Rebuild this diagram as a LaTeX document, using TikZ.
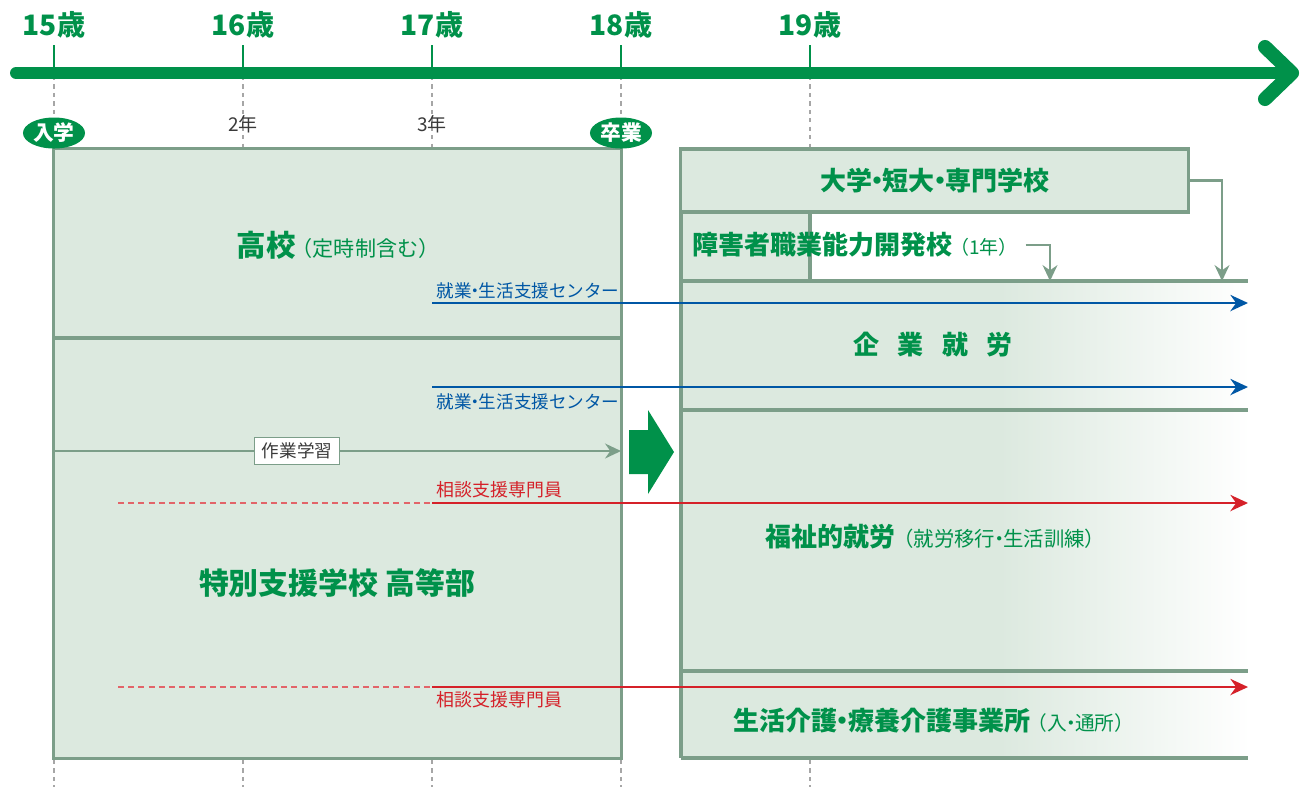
\documentclass[tikz,border=0pt]{standalone}
\usepackage{fontspec}
\setmainfont{Noto Sans CJK JP}
\usetikzlibrary{shapes.geometric,arrows.meta}
\definecolor{agegreen}{HTML}{00914A}
\definecolor{panelfill}{HTML}{DCE9DF}
\definecolor{panelline}{HTML}{7C9E89}
\definecolor{centerblue}{HTML}{0057A5}
\definecolor{advisorred}{HTML}{D52129}
\definecolor{gradegray}{HTML}{3A3A3A}
\newcommand{\fsz}[1]{\fontsize{#1}{#1}\selectfont}
\newcommand{\ndot}{\hspace{-0.3em}・\hspace{-0.3em}}

\begin{document}
\begin{tikzpicture}[x=0.01cm, y=-0.01cm,
  every node/.style={inner sep=0pt, align=center},
  agelabel/.style={text=agegreen, font=\fsz{8pt}\bfseries},
  gradelabel/.style={text=gradegray, font=\fsz{5.4pt}},
  tick/.style={agegreen, line width=0.6pt},
  guide/.style={gray!70, dash pattern=on 1.2pt off 1.2pt, line width=0.4pt},
  timeline/.style={agegreen, line width=3.4pt, line cap=round, line join=round},
  stage/.style={ellipse, fill=agegreen, text=white, minimum width=0.62cm, minimum height=0.31cm, font=\fsz{5.9pt}\bfseries},
  panel/.style={draw=panelline, fill=panelfill, line width=0.9pt},
  rule/.style={panelline, line width=0.9pt},
  flow/.style={panelline, line width=0.8pt, -{Stealth[length=4.5pt, width=4.2pt]}},
  heading/.style={text=agegreen, font=\fsz{7.4pt}\bfseries},
  support/.style={centerblue, line width=0.7pt, -{Stealth[length=5pt, width=4.6pt]}},
  supportlabel/.style={text=centerblue, font=\fsz{5pt}},
  advisor/.style={advisorred, line width=0.7pt, -{Stealth[length=5pt, width=4.6pt]}},
  advisordash/.style={advisorred!70, line width=0.6pt, dash pattern=on 1.7pt off 1.2pt},
  advisorlabel/.style={text=advisorred, font=\fsz{5.1pt}},
  worklabel/.style={draw=panelline, fill=white, line width=0.5pt, minimum width=0.85cm, minimum height=0.27cm, text=gradegray, font=\fsz{5pt}}
]
\useasboundingbox (0,0) rectangle (1300,787);

% Age guides
\draw[guide] (54,76) -- (54,149);
\draw[guide] (243,76) -- (243,149);
\draw[guide] (432,76) -- (432,149);
\draw[guide] (621,76) -- (621,149);
\draw[guide] (810,76) -- (810,149);
\draw[guide] (54,760) -- (54,787);
\draw[guide] (243,760) -- (243,787);
\draw[guide] (432,760) -- (432,787);
\draw[guide] (621,760) -- (621,787);
\draw[guide] (810,760) -- (810,787);

% Timeline
\coordinate (tl start) at (16,73);
\coordinate (tl end) at (1292,73);
\draw[timeline] (tl start) -- (tl end);
\draw[timeline, line width=4pt] (1265,47) -- (tl end) -- (1265,99);

% Ages
\node[agelabel] (age15) at (54,25) {15歳};
\draw[tick] (54,45) -- (54,73);
\node[agelabel] (age16) at (243,25) {16歳};
\draw[tick] (243,45) -- (243,73);
\node[agelabel] (age17) at (432,25) {17歳};
\draw[tick] (432,45) -- (432,73);
\node[agelabel] (age18) at (621,25) {18歳};
\draw[tick] (621,45) -- (621,73);
\node[agelabel] (age19) at (810,25) {19歳};
\draw[tick] (810,45) -- (810,73);

% High school side
\node[panel, minimum width=5.67cm, minimum height=6.09cm] (hs) at (337.5,453.5) {};
\draw[rule] (54,338) -- (621,338);
\node[gradelabel] (grade2) at (243,124) {2年};
\node[gradelabel] (grade3) at (432,124) {3年};
\node[stage] (enter) at (54,133) {入学};
\node[stage] (graduate) at (621,133) {卒業};
\node[heading] (highschool) at (338,245) {{\fsz{8.4pt}高校}\hspace{-0.15em}{\fsz{6pt}\mdseries（定時制含む）}};
\node[heading, font=\fsz{8.5pt}\bfseries] (special) at (337,583) {特別支援学校 高等部};

% After graduation
\fill[panelfill] (681,281) rectangle (1000,758);
\shade[left color=panelfill, right color=white] (1000,281) rectangle (1250,758);
\node[panel, minimum width=5.07cm, minimum height=0.63cm] (univ) at (934.5,180.5) {};
\node[panel, minimum width=1.29cm, minimum height=0.69cm] (vocbox) at (745.5,246.5) {};
\draw[rule] (681,212) -- (681,758);
\draw[rule] (681,281) -- (1248,281);
\draw[rule] (681,410) -- (1248,410);
\draw[rule] (681,671) -- (1248,671);
\draw[rule] (681,758) -- (1248,758);
\node[heading] (univtext) at (935,181) {大学\ndot 短大\ndot 専門学校};
\node[heading, anchor=west] (voc) at (692,245) {障害者職業能力開発校\hspace{-0.1em}{\fsz{5.4pt}\mdseries（1年）}};
\coordinate (voc end) at (1050,281);
\coordinate (univ end) at (1222,281);
\draw[flow] ([xshift=2pt]voc.east) -| (voc end);
\draw[flow] (univ.east) -| (univ end);
\node[heading] (company) at (933,345) {企\hspace{0.7em}業\hspace{0.7em}就\hspace{0.7em}労};
\node[heading, anchor=west] (welfare) at (765,537) {福祉的就労\hspace{-0.1em}{\fsz{5.8pt}\mdseries（就労移行\ndot 生活訓練）}};
\node[heading, anchor=west] (care) at (733,721) {生活介護\ndot 療養介護事業所\hspace{-0.1em}{\fsz{5.6pt}\mdseries（入\ndot 通所）}};

% Big arrow
\fill[agegreen] (629,430) -- (648,430) -- (648,410) -- (674,452) -- (648,494) -- (648,474) -- (629,474) -- cycle;

% Work study
\coordinate (work from) at (54,451);
\coordinate (work to) at (621,451);
\draw[flow] (work from) -- (work to);
\node[worklabel] (work) at (297,451) {作業学習};

% Employment support centres
\coordinate (jc1 from) at (432,303);
\coordinate (jc1 to) at (1248,303);
\draw[support] (jc1 from) -- (jc1 to);
\node[supportlabel, anchor=base west] (jc1 label) at (436,297) {就業\ndot 生活支援センター};
\coordinate (jc2 from) at (432,387);
\coordinate (jc2 to) at (1248,387);
\draw[support] (jc2 from) -- (jc2 to);
\node[supportlabel, anchor=base west] (jc2 label) at (436,408) {就業\ndot 生活支援センター};

% Consultation advisors
\coordinate (adv1 dash) at (118,503);
\coordinate (adv1 from) at (432,503);
\coordinate (adv1 to) at (1248,503);
\draw[advisordash] (adv1 dash) -- (adv1 from);
\draw[advisor] (adv1 from) -- (adv1 to);
\node[advisorlabel, anchor=base west] (adv1 label) at (436,496) {相談支援専門員};
\coordinate (adv2 dash) at (118,687);
\coordinate (adv2 from) at (432,687);
\coordinate (adv2 to) at (1248,687);
\draw[advisordash] (adv2 dash) -- (adv2 from);
\draw[advisor] (adv2 from) -- (adv2 to);
\node[advisorlabel, anchor=base west] (adv2 label) at (436,706) {相談支援専門員};
\end{tikzpicture}
\end{document}
